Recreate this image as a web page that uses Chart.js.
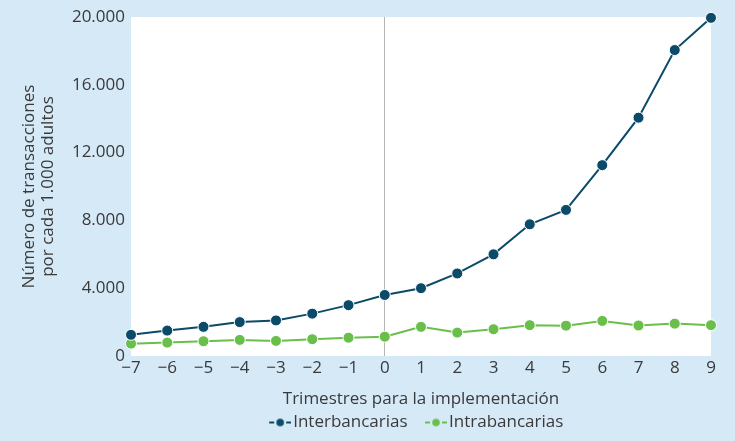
<!DOCTYPE html>
<html><head><meta charset="utf-8">
<script src="https://cdn.jsdelivr.net/npm/chart.js@4.4.1/dist/chart.umd.min.js"></script>
<style>
html,body{margin:0;padding:0;background:#d6e9f7;}
#wrap{width:735px;height:441px;position:relative;}
</style></head><body>
<div id="wrap"><canvas id="c" width="735" height="441"></canvas></div>
<script>
const quarters = [-7,-6,-5,-4,-3,-2,-1,0,1,2,3,4,5,6,7,8,9];
const interbancarias = [1250,1500,1720,2000,2100,2500,3000,3600,4000,4870,6000,7770,8620,11260,14060,18050,19950];
const intrabancarias = [730,790,870,950,890,990,1080,1140,1720,1380,1580,1820,1790,2070,1800,1910,1820];
const yTicks = [0,4000,8000,12000,16000,20000];
const seriesNames = ['Interbancarias','Intrabancarias'];
const xTitle = 'Trimestres para la implementación';
const yTitle = ['Número de transacciones','por cada 1.000 adultos'];

const BLUE = '#0b4a69', GREEN = '#6abf4b', TXT = '#3a3a3a';
const FONT = 'Open Sans';
const FS = 17;

function legendIcon(color){
  const cv = document.createElement('canvas');
  cv.width = 38; cv.height = 10;
  const g = cv.getContext('2d');
  const o = 16;
  g.strokeStyle = color; g.lineWidth = 2;
  g.beginPath(); g.moveTo(o,5); g.lineTo(o+5,5); g.moveTo(o+17,5); g.lineTo(o+22,5); g.stroke();
  g.fillStyle = color; g.beginPath(); g.arc(o+11,5,3.8,0,Math.PI*2); g.fill();
  return cv;
}

const areaBg = {
  id:'areaBg',
  beforeDraw(chart){
    const {ctx, chartArea:a} = chart;
    ctx.save(); ctx.fillStyle = '#ffffff';
    ctx.fillRect(a.left, a.top, a.right-a.left, a.bottom-a.top);
    ctx.restore();
  }
};
const legendShift = {
  id:'legendShift',
  afterLayout(chart){ if (chart.legend){ chart.legend.left += 46; chart.legend.right += 46; } }
};

const mk = (arr) => quarters.map((q,i)=>({x:q,y:arr[i]}));

new Chart(document.getElementById('c'), {
  type:'line',
  data:{datasets:[
    {label:seriesNames[0], data:mk(interbancarias), borderColor:BLUE, backgroundColor:BLUE, borderWidth:2, clip:false,
     pointRadius:5.5, pointBorderColor:'#ffffff', pointBorderWidth:1, pointBackgroundColor:BLUE, tension:0},
    {label:seriesNames[1], data:mk(intrabancarias), borderColor:GREEN, backgroundColor:GREEN, borderWidth:2, clip:false,
     pointRadius:5.5, pointBorderColor:'#ffffff', pointBorderWidth:1, pointBackgroundColor:GREEN, tension:0}
  ]},
  options:{
    responsive:false, animation:false,
    layout:{padding:{left:20, right:24, top:17, bottom:0}},
    plugins:{
      tooltip:{enabled:false},
      legend:{position:'bottom', labels:{
        font:{family:FONT,size:FS}, color:TXT, padding:8, boxWidth:25, boxHeight:10,
        usePointStyle:true, pointStyleWidth:25,
        generateLabels(chart){
          return chart.data.datasets.map((d,i)=>({text:d.label, pointStyle:legendIcon(d.borderColor), fontColor:TXT,
            strokeStyle:'transparent', fillStyle:'transparent', lineWidth:0, datasetIndex:i}));
        }
      }}
    },
    scales:{
      x:{type:'linear', min:-7, max:9,
        afterBuildTicks(s){ s.ticks = quarters.map(v=>({value:v})); },
        afterFit(s){ s.height = 50; },
        ticks:{font:{family:FONT,size:FS}, color:TXT, padding:2, maxRotation:0,
          callback:(v)=> v<0 ? '\u2212'+Math.abs(v) : String(v)},
        grid:{drawTicks:false, color:(c)=> c.tick && c.tick.value===0 ? '#b5b5b5':'rgba(0,0,0,0)', lineWidth:1},
        border:{display:false},
        title:{display:true, text:xTitle, font:{family:FONT,size:FS}, color:TXT, padding:{top:6,bottom:-3}}
      },
      y:{min:0, max:20000,
        afterBuildTicks(s){ s.ticks = yTicks.map(v=>({value:v})); },
        afterFit(s){ s.width = 111; },
        ticks:{font:{family:FONT,size:FS}, color:TXT, padding:6,
          callback:(v)=> v.toLocaleString('de-DE')},
        grid:{display:false, drawTicks:false},
        border:{display:false},
        title:{display:true, text:yTitle, font:{family:FONT,size:FS,lineHeight:1.1}, color:TXT, padding:{top:0,bottom:8}}
      }
    }
  },
  plugins:[areaBg, legendShift]
});
</script>
</body></html>
